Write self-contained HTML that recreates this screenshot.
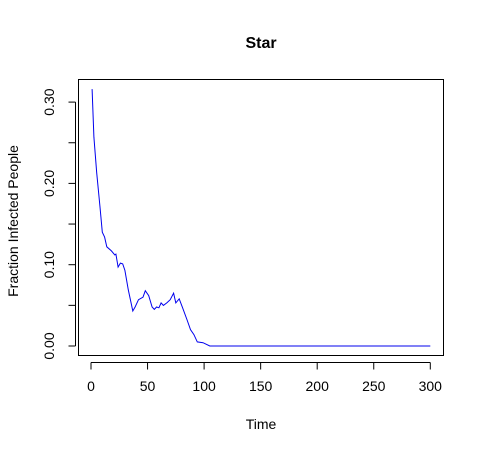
<!DOCTYPE html>
<html><head><meta charset="utf-8"><style>
body{margin:0;background:#fff;}
svg text{font-family:"Liberation Sans",Arial,sans-serif;fill:#000;}
</style></head><body>
<svg width="485" height="454">
<rect x="0" y="0" width="485" height="454" fill="#fff"/>
<text x="261" y="48" font-size="16" font-weight="bold" text-anchor="middle">Star</text>
<rect x="78.5" y="79.5" width="365" height="276" fill="none" stroke="#000"/>
<g id="xaxis"></g>
<g id="yaxis"></g>
<text x="261" y="429" font-size="14" text-anchor="middle">Time</text>
<text transform="translate(18,221) rotate(-90)" font-size="14" text-anchor="middle">Fraction Infected People</text>
<path id="line" fill="none" stroke="#0000ee" stroke-width="1"/>
</svg>
<script>
const xTicks=[0,50,100,150,200,250,300];
const yTicks=[0,0.05,0.10,0.15,0.20,0.25,0.30];
const yLabels=["0.00","","0.10","","0.20","","0.30"];
const times=[1,2.6,5,8,10,12,14,18,21,22,24,26,28,30,33,37,39,42,46,48,51,54,56,58,60,62,64,67,70,73,75,78,81,85,88,91,94,99,105,300];
const values=[0.316,0.257,0.213,0.171,0.140,0.134,0.122,0.117,0.112,0.113,0.097,0.102,0.101,0.093,0.069,0.043,0.048,0.057,0.060,0.068,0.062,0.048,0.045,0.048,0.047,0.053,0.050,0.053,0.057,0.065,0.053,0.058,0.047,0.032,0.020,0.014,0.005,0.004,0.0,0.0];
const sx=t=>91+t*(430.3-91)/300;
const sy=v=>346-v*813;
const ns="http://www.w3.org/2000/svg";
const xa=document.getElementById('xaxis'), ya=document.getElementById('yaxis');
function mk(tag,attrs,parent){const e=document.createElementNS(ns,tag);for(const k in attrs)e.setAttribute(k,attrs[k]);parent.appendChild(e);return e;}
mk('line',{x1:sx(0),x2:sx(300),y1:362.5,y2:362.5,stroke:'#000'},xa);
xTicks.forEach(t=>{
 const l=mk('line',{x1:sx(t),x2:sx(t),y1:362.5,y2:369.5,stroke:'#000'},xa);
 
 
 const tx=mk('text',{x:sx(t),y:391,'font-size':14,'text-anchor':'middle'},xa);
 tx.textContent=t;
 
 
});
mk('line',{x1:75.5,x2:75.5,y1:sy(0),y2:sy(0.30),stroke:'#000'},ya);
yTicks.forEach((v,i)=>{
 const l=mk('line',{x1:68.5,x2:75.5,y1:sy(v),y2:sy(v),stroke:'#000'},ya);
 
 
 if(yLabels[i]){
  const tx=mk('text',{transform:`translate(54,${sy(v)}) rotate(-90)`,'font-size':14,'text-anchor':'middle'},ya);
  tx.textContent=yLabels[i];
  
  
 }
});
document.getElementById('line').setAttribute('d',times.map((t,i)=>(i?'L':'M')+sx(t).toFixed(1)+','+sy(values[i]).toFixed(1)).join(''));
</script>
</body></html>
